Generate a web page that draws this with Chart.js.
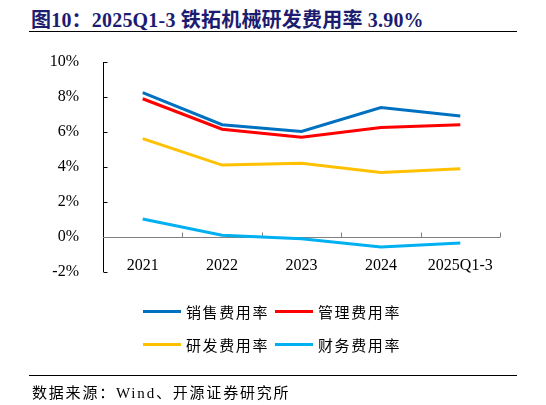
<!DOCTYPE html>
<html><head><meta charset="utf-8">
<script src="https://cdn.jsdelivr.net/npm/chart.js@4"></script>
<style>
html,body{margin:0;padding:0;background:#fff;}
#wrap{position:relative;width:546px;height:405px;overflow:hidden;}
#title{position:absolute;left:31px;top:4px;font:bold 20px "Liberation Serif","Noto Sans CJK SC",serif;color:#1c1c70;white-space:nowrap;letter-spacing:0.2px;}
#rule1{position:absolute;left:29px;width:488px;top:31px;height:0;border-top:1px solid #000;}
#rule2{position:absolute;left:29px;width:488px;top:375px;height:0;border-top:1px solid #000;}
#source{position:absolute;left:32px;top:381px;font:15px "Liberation Serif","Noto Sans CJK SC",serif;color:#000;white-space:nowrap;letter-spacing:1.8px;}
#chartbox{position:absolute;left:0;top:0;width:546px;height:405px;}
.lg{position:absolute;display:flex;align-items:center;font:15px "Noto Sans CJK SC",sans-serif;color:#000;letter-spacing:1.6px;white-space:nowrap;}
.lg span.sw{display:inline-block;width:38px;height:3px;margin-right:5px;}
</style>
</head><body>
<div id="wrap">
<div id="title">图10：2025Q1-3 铁拓机械研发费用率 3.90%</div>
<div id="rule1"></div>
<div id="chartbox"><canvas id="c" width="546" height="405"></canvas></div>
<div id="legend"></div>
<div id="rule2"></div>
<div id="source">数据来源：Wind、开源证券研究所</div>
</div>
<script>
const categories = ['2021','2022','2023','2024','2025Q1-3'];
const salesRate = [8.25, 6.42, 6.03, 7.40, 6.92];
const adminRate = [7.90, 6.16, 5.70, 6.26, 6.42];
const rdRate = [5.62, 4.11, 4.22, 3.69, 3.90];
const financeRate = [1.03, 0.10, -0.10, -0.57, -0.34];
const seriesNames = ['销售费用率','管理费用率','研发费用率','财务费用率'];
const seriesColors = ['#0070C0','#FF0000','#FFC000','#00B0F0'];
const yTicks = [-2,0,2,4,6,8,10];

const seriesData = [salesRate, adminRate, rdRate, financeRate];
const datasets = seriesNames.map((n,i)=>({
  label:n, data:seriesData[i], borderColor:seriesColors[i], backgroundColor:seriesColors[i],
  borderWidth:3, pointRadius:0, tension:0, fill:false
}));

const axesPlugin = {
  id:'axesPlugin',
  beforeDatasetsDraw(chart){
    const {ctx, chartArea} = chart;
    const x = chart.scales.x, y = chart.scales.y;
    ctx.save();
    // y axis
    ctx.strokeStyle = '#000'; ctx.lineWidth = 1;
    const lx = Math.round(chartArea.left)+0.5;
    ctx.beginPath();
    ctx.moveTo(lx, y.getPixelForValue(yTicks[yTicks.length-1]));
    ctx.lineTo(lx, y.getPixelForValue(yTicks[0]));
    yTicks.forEach(v=>{ const py = Math.round(y.getPixelForValue(v))+0.5; ctx.moveTo(lx,py); ctx.lineTo(lx+4,py); });
    ctx.stroke();
    // x axis at 0
    ctx.strokeStyle = '#808080';
    const y0 = Math.round(y.getPixelForValue(0))+0.5;
    ctx.beginPath();
    ctx.moveTo(chartArea.left, y0); ctx.lineTo(chartArea.right, y0);
    for(let i=1;i<=categories.length;i++){
      const px = Math.round(x.getPixelForValue(i-0.5))+0.5;
      ctx.moveTo(px,y0); ctx.lineTo(px,y0-5);
    }
    ctx.stroke();
    ctx.restore();
  }
};

new Chart(document.getElementById('c'), {
  type:'line',
  data:{labels:categories, datasets},
  options:{
    responsive:false, animation:false, devicePixelRatio:1,
    layout:{padding:{left:0,top:62,right:46,bottom:133}},
    plugins:{legend:{display:false}, tooltip:{enabled:false}},
    scales:{
      x:{position:{y:0}, offset:true, grid:{display:false}, border:{display:false},
         ticks:{padding:11, color:'#000', font:{family:'Liberation Serif', size:16}, maxRotation:0, autoSkip:false}},
      y:{min:-2, max:10, grid:{display:false}, border:{display:false},
         afterFit(s){ s.width = 103; },
         afterBuildTicks(s){ s.ticks = yTicks.map(v=>({value:v})); },
         ticks:{padding:16, color:'#000', font:{family:'Liberation Serif', size:16}, callback:v=>v+'%'}}
    }
  },
  plugins:[axesPlugin]
});

// HTML legend built from the series arrays
const lg = document.getElementById('legend');
const pos = [[143,301],[275,301],[143,334],[275,334]];
seriesNames.forEach((n,i)=>{
  const d = document.createElement('div'); d.className='lg';
  d.style.left = pos[i][0]+'px'; d.style.top = pos[i][1]+'px';
  d.innerHTML = '<span class="sw" style="background:'+seriesColors[i]+'"></span>'+n;
  lg.appendChild(d);
});
</script>
</body></html>
